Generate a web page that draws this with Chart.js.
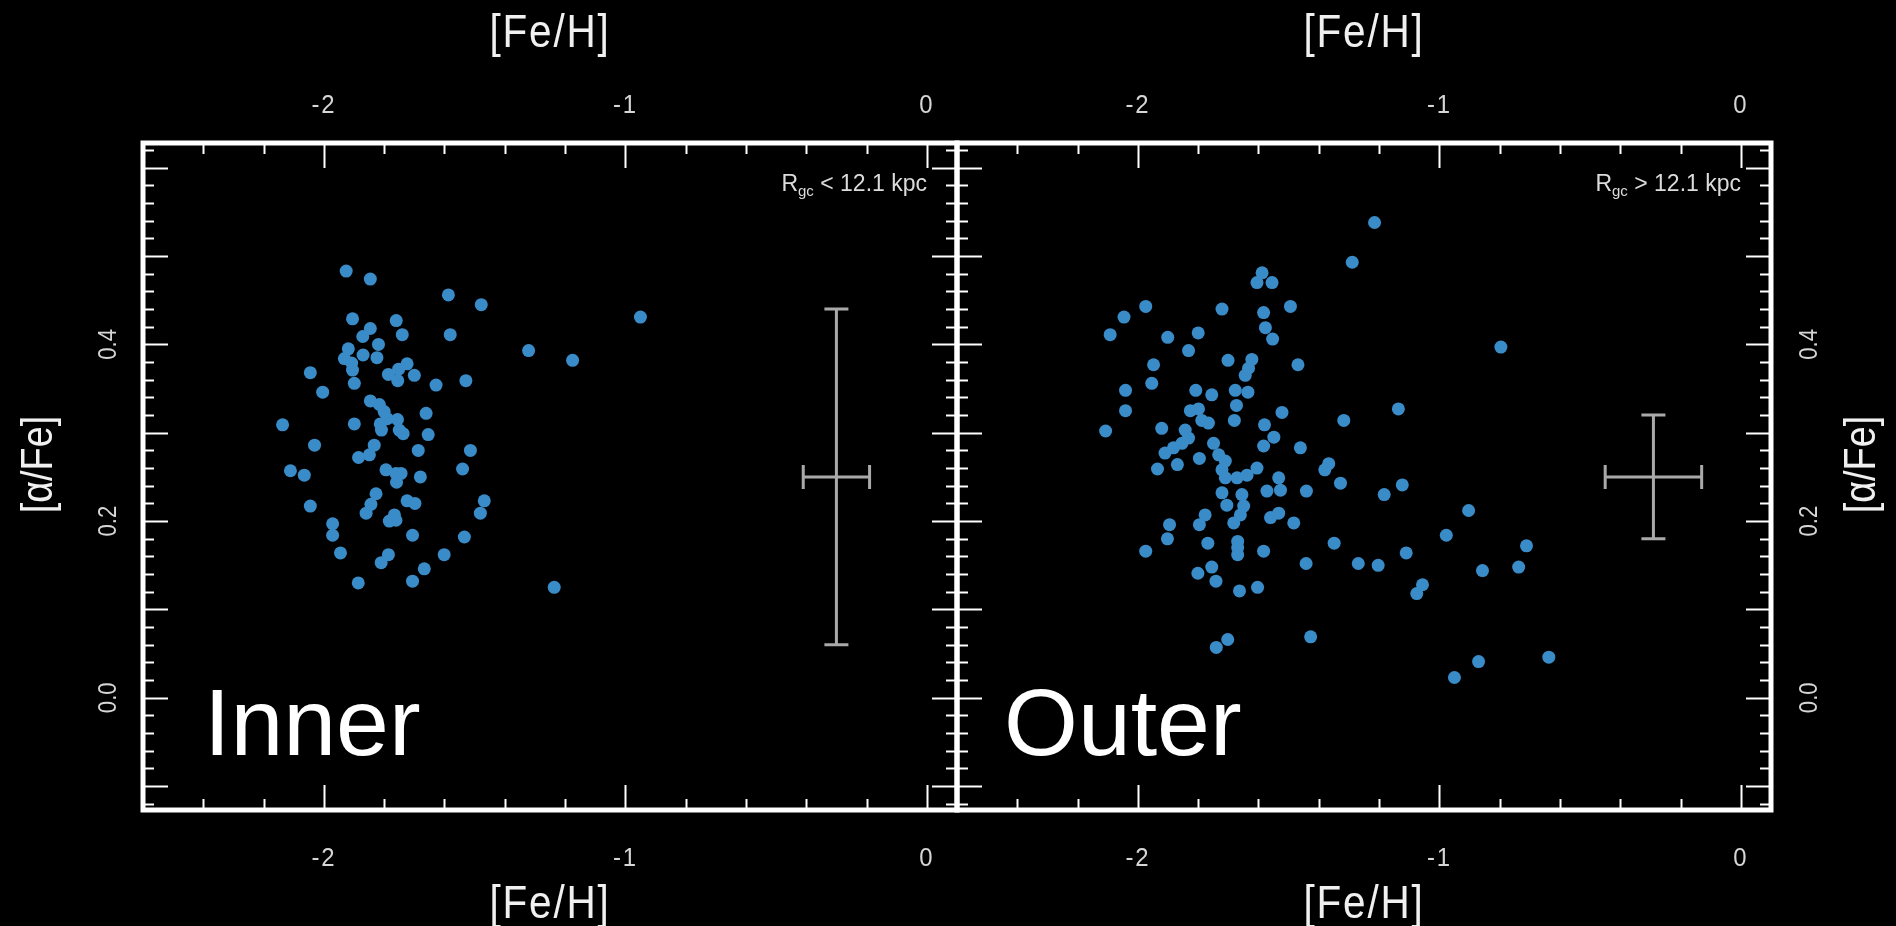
<!DOCTYPE html>
<html>
<head>
<meta charset="utf-8">
<script src="https://cdn.jsdelivr.net/npm/chart.js@4.4.1/dist/chart.umd.min.js"></script>
<style>
  html, body { margin: 0; padding: 0; background: #000; overflow: hidden; }
  #wrap { position: relative; width: 1896px; height: 926px; }
  #wrap canvas { position: absolute; left: 0; top: 0; }
</style>
</head>
<body>
<div id="wrap">
  <canvas id="inner" width="1896" height="926"></canvas>
  <canvas id="outer" width="1896" height="926"></canvas>
</div>
<script>
// [Fe/H] and [alpha/Fe] of the stars
const innerFeH = [
  -1.926, -1.846, -1.587, -1.478, -1.905, -1.760, -1.846, -1.871, -1.740, -1.581,
  -1.919, -1.819, -1.870, -1.932, -1.824, -1.905, -2.045, -1.899, -2.004, -1.786,
  -1.752, -1.724, -1.700, -1.755, -1.628, -1.529, -1.846, -1.816, -1.800, -1.790,
  -1.813, -1.756, -1.809, -1.750, -1.737, -1.661, -2.137, -1.899, -1.654, -2.031,
  -1.833, -1.849, -1.885, -1.687, -1.514, -2.111, -2.065, -1.794, -1.761, -1.744,
  -1.759, -1.680, -1.540, -1.827, -1.844, -1.860, -1.724, -1.698, -1.468, -1.481,
  -2.045, -1.766, -1.783, -1.761, -1.971, -1.971, -1.706, -1.534, -1.945, -1.786,
  -1.810, -1.601, -1.667, -1.886, -1.706, -1.321, -1.175, -0.950, -1.236, -1.908
];
const innerAlphaFe = [
  0.483, 0.474, 0.456, 0.445, 0.429, 0.427, 0.418, 0.409, 0.411, 0.411,
  0.395, 0.400, 0.388, 0.384, 0.385, 0.371, 0.368, 0.356, 0.346, 0.366,
  0.372, 0.378, 0.365, 0.359, 0.354, 0.359, 0.336, 0.332, 0.324, 0.316,
  0.310, 0.315, 0.303, 0.303, 0.299, 0.322, 0.309, 0.310, 0.298, 0.286,
  0.286, 0.275, 0.272, 0.280, 0.280, 0.257, 0.252, 0.258, 0.254, 0.254,
  0.244, 0.250, 0.259, 0.231, 0.219, 0.209, 0.223, 0.220, 0.223, 0.209,
  0.217, 0.207, 0.200, 0.201, 0.197, 0.184, 0.184, 0.182, 0.164, 0.162,
  0.153, 0.162, 0.146, 0.130, 0.132, 0.393, 0.382, 0.431, 0.125, 0.379
];
const outerFeH = [
  -1.588, -1.605, -1.555, -1.974, -1.721, -1.494, -2.046, -1.583, -2.092, -1.901,
  -1.800, -1.577, -1.553, -1.832, -1.948, -1.701, -1.622, -1.633, -1.644, -1.469,
  -1.954, -2.041, -1.808, -1.755, -1.677, -1.635, -1.673, -2.041, -1.826, -1.799,
  -1.788, -1.766, -1.680, -1.522, -2.107, -1.921, -1.843, -1.832, -1.854, -1.882,
  -1.910, -1.580, -1.549, -1.749, -1.583, -1.461, -1.935, -1.869, -1.796, -1.732,
  -1.710, -1.721, -1.710, -1.671, -1.638, -1.605, -1.533, -1.572, -1.527, -1.441,
  -1.721, -1.655, -1.649, -1.660, -1.682, -1.705, -1.777, -1.796, -1.533, -1.560,
  -1.483, -1.895, -1.902, -1.768, -1.669, -1.669, -1.669, -1.583, -1.974, -1.442,
  -1.349, -1.755, -1.801, -1.741, -1.663, -1.603, -1.702, -1.740, -1.427, -1.215,
  -1.289, -0.796, -1.136, -1.317, -1.367, -1.380, -1.328, -1.123, -1.183, -0.903,
  -0.977, -0.711, -1.269, -1.203, -1.110, -0.857, -0.737, -1.056, -1.075, -0.870,
  -0.950, -0.637
];
const outerAlphaFe = [
  0.481, 0.470, 0.470, 0.443, 0.440, 0.443, 0.431, 0.436, 0.411, 0.408,
  0.413, 0.419, 0.406, 0.393, 0.377, 0.382, 0.383, 0.373, 0.365, 0.377,
  0.356, 0.348, 0.348, 0.343, 0.348, 0.346, 0.331, 0.325, 0.325, 0.327,
  0.314, 0.311, 0.314, 0.323, 0.302, 0.305, 0.303, 0.294, 0.288, 0.283,
  0.277, 0.309, 0.295, 0.288, 0.285, 0.283, 0.259, 0.264, 0.271, 0.275,
  0.268, 0.258, 0.249, 0.249, 0.252, 0.260, 0.249, 0.234, 0.235, 0.234,
  0.232, 0.230, 0.217, 0.207, 0.198, 0.218, 0.207, 0.196, 0.209, 0.204,
  0.198, 0.196, 0.180, 0.175, 0.177, 0.170, 0.162, 0.166, 0.166, 0.152,
  0.175, 0.148, 0.141, 0.132, 0.121, 0.125, 0.066, 0.057, 0.069, 0.538,
  0.493, 0.397, 0.327, 0.314, 0.265, 0.258, 0.243, 0.241, 0.230, 0.212,
  0.184, 0.172, 0.152, 0.150, 0.164, 0.144, 0.148, 0.128, 0.118, 0.041,
  0.023, 0.046
];

// typical error bars, one per panel
const errFeH = [-0.30, -0.29];
const errAlphaFe = [0.25, 0.25];
const errFeHSize = [0.11, 0.16];
const errAlphaSize = [0.19, 0.07];

const xTickLabels = [-2, -1, 0];
const yTickLabels = [0.0, 0.2, 0.4];
const panelNames = ['Inner', 'Outer'];
const radiusCuts = ['< 12.1 kpc', '> 12.1 kpc'];

const FONT = '"Liberation Sans", Arial, sans-serif';

// text helper: squeeze < 1 gives the narrow look of the plot font
function drawText(ctx, text, x, y, size, align, opt) {
  opt = opt || {};
  ctx.save();
  ctx.translate(x, y);
  if (opt.rot) ctx.rotate(opt.rot);
  ctx.scale(opt.squeeze || 1, 1);
  ctx.font = size + 'px ' + FONT;
  if ('letterSpacing' in ctx) ctx.letterSpacing = (opt.spacing || 0) + 'px';
  ctx.textAlign = align;
  ctx.textBaseline = opt.base || 'alphabetic';
  ctx.fillText(text, 0, 0);
  ctx.restore();
}

const framePlugin = {
  id: 'frame',
  afterDatasetsDraw(chart, args, opts) {
    const ctx = chart.ctx;
    const xs = chart.scales.x, ys = chart.scales.y;
    const i = opts.idx;
    const cx = xs.getPixelForValue(errFeH[i]);
    const cy = ys.getPixelForValue(errAlphaFe[i]);
    const x0 = xs.getPixelForValue(errFeH[i] - errFeHSize[i]);
    const x1 = xs.getPixelForValue(errFeH[i] + errFeHSize[i]);
    const y0 = ys.getPixelForValue(errAlphaFe[i] + errAlphaSize[i]);
    const y1 = ys.getPixelForValue(errAlphaFe[i] - errAlphaSize[i]);
    const cap = 12;
    ctx.save();
    ctx.strokeStyle = '#a9a9a9';
    ctx.lineWidth = 3;
    ctx.beginPath();
    ctx.moveTo(x0, cy); ctx.lineTo(x1, cy);
    ctx.moveTo(cx, y0); ctx.lineTo(cx, y1);
    ctx.moveTo(x0, cy - cap); ctx.lineTo(x0, cy + cap);
    ctx.moveTo(x1, cy - cap); ctx.lineTo(x1, cy + cap);
    ctx.moveTo(cx - cap, y0); ctx.lineTo(cx + cap, y0);
    ctx.moveTo(cx - cap, y1); ctx.lineTo(cx + cap, y1);
    ctx.stroke();
    ctx.restore();
  },
  afterDraw(chart, args, opts) {
    const ctx = chart.ctx;
    const a = chart.chartArea;
    const xs = chart.scales.x, ys = chart.scales.y;
    const longT = 25, shortT = 11;

    ctx.save();
    ctx.strokeStyle = '#ffffff';
    ctx.lineWidth = 2;
    ctx.beginPath();
    // x ticks every 0.2, long ones at whole numbers
    for (let k = -12; k <= 0; k++) {
      const v = k * 0.2;
      const px = Math.round(xs.getPixelForValue(v)) + 0.5;
      const len = Math.abs(v - Math.round(v)) < 1e-6 ? longT : shortT;
      ctx.moveTo(px, a.top); ctx.lineTo(px, a.top + len);
      ctx.moveTo(px, a.bottom); ctx.lineTo(px, a.bottom - len);
    }
    // y ticks every 0.02, long ones every 0.1
    for (let k = -6; k <= 31; k++) {
      const v = k * 0.02;
      const py = Math.round(ys.getPixelForValue(v)) + 0.5;
      if (py < a.top + 4 || py > a.bottom - 4) continue;
      const len = k % 5 === 0 ? longT : shortT;
      ctx.moveTo(a.left, py); ctx.lineTo(a.left + len, py);
      ctx.moveTo(a.right, py); ctx.lineTo(a.right - len, py);
    }
    ctx.stroke();

    // frame
    ctx.lineWidth = 5;
    ctx.strokeRect(a.left, a.top, a.right - a.left, a.bottom - a.top);

    // tick labels
    ctx.fillStyle = '#d6d6d6';
    xTickLabels.forEach(v => {
      const px = xs.getPixelForValue(v);
      drawText(ctx, String(v), px, a.top - 30, 26, 'center', { squeeze: 0.92, spacing: 2 });
      drawText(ctx, String(v), px, a.bottom + 56, 26, 'center', { squeeze: 0.92, spacing: 2 });
    });
    const yLabX = opts.ySide === 'left' ? a.left - 34 : a.right + 39;
    yTickLabels.forEach(v => {
      const py = ys.getPixelForValue(v);
      drawText(ctx, v.toFixed(1), yLabX, py, 26, 'center',
        { squeeze: 0.85, rot: -Math.PI / 2, base: 'middle' });
    });

    // axis titles
    ctx.fillStyle = '#f0f0f0';
    const midX = (a.left + a.right) / 2;
    drawText(ctx, '[Fe/H]', midX, a.top - 96, 46, 'center', { squeeze: 0.88, spacing: 2 });
    drawText(ctx, '[Fe/H]', midX, a.bottom + 108, 46, 'center', { squeeze: 0.88, spacing: 2 });
    const yTitX = opts.ySide === 'left' ? a.left - 103 : a.right + 92;
    drawText(ctx, '[\u03b1/Fe]', yTitX, (a.top + a.bottom) / 2 - 12, 45, 'center',
      { squeeze: 0.84, rot: -Math.PI / 2, base: 'middle' });

    // R_gc note, right aligned near the top right corner
    ctx.fillStyle = '#dcdcdc';
    ctx.font = '23px ' + FONT;
    const wR = ctx.measureText('R').width;
    const wRest = ctx.measureText(' ' + radiusCuts[opts.idx]).width;
    ctx.font = '15px ' + FONT;
    const wSub = ctx.measureText('gc').width;
    const tx = a.right - 30 - (wR + wSub + wRest);
    const base = a.top + 48;
    drawText(ctx, 'R', tx, base, 23, 'left');
    drawText(ctx, 'gc', tx + wR, base + 5, 15, 'left');
    drawText(ctx, ' ' + radiusCuts[opts.idx], tx + wR + wSub, base, 23, 'left');

    // big panel name
    ctx.fillStyle = '#ffffff';
    ctx.font = '95px ' + FONT;
    ctx.textAlign = 'left';
    ctx.textBaseline = 'alphabetic';
    ctx.fillText(panelNames[opts.idx], a.left + opts.nameDx, a.bottom - 55);
    ctx.restore();
  }
};

function makePanel(id, idx, feh, alpha, pad, ySide, nameDx) {
  return new Chart(document.getElementById(id), {
    type: 'scatter',
    data: {
      datasets: [{
        data: feh.map((v, i) => ({ x: v, y: alpha[i] })),
        backgroundColor: 'rgb(58,140,201)',
        borderWidth: 0,
        pointRadius: 6.5,
        pointHoverRadius: 6.5
      }]
    },
    options: {
      responsive: false,
      animation: false,
      devicePixelRatio: 1,
      events: [],
      layout: { padding: pad, autoPadding: false },
      plugins: {
        legend: { display: false },
        tooltip: { enabled: false },
        frame: { idx: idx, ySide: ySide, nameDx: nameDx }
      },
      scales: {
        x: { type: 'linear', min: -2.6, max: 0.1, display: false },
        y: { type: 'linear', min: -0.127, max: 0.628, display: false }
      }
    },
    plugins: [framePlugin]
  });
}

makePanel('inner', 0, innerFeH, innerAlphaFe,
  { left: 143, right: 939, top: 143, bottom: 116 }, 'left', 61);
makePanel('outer', 1, outerFeH, outerAlphaFe,
  { left: 957, right: 125, top: 143, bottom: 116 }, 'right', 47);
</script>
</body>
</html>
